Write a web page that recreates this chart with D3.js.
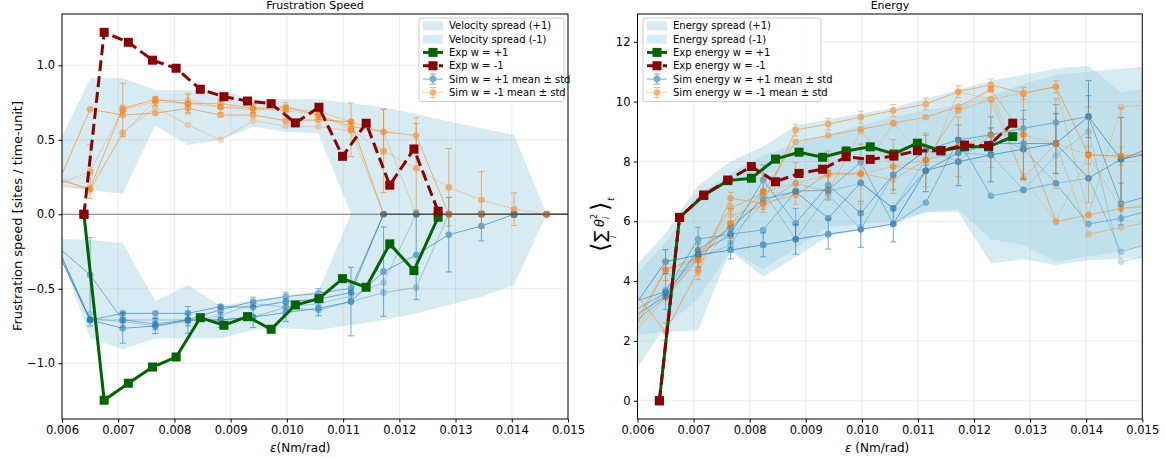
<!DOCTYPE html>
<html><head><meta charset="utf-8">
<script src="https://cdn.jsdelivr.net/npm/d3@7"></script>
<style>body{margin:0;background:#fff} text{font-family:"DejaVu Sans",sans-serif}</style>
</head><body><svg id="c" width="1165" height="459"></svg>
<script>
// ---------- DATA ----------
const simX = [0.00592,0.0065,0.00708,0.00766,0.00824,0.00882,0.0094,0.00998,0.01056,0.01114,0.01172,0.0123,0.01288,0.01346,0.01404,0.01462,0.0152];
const expX = [0.00639,0.00675,0.00718,0.00761,0.00803,0.00846,0.00888,0.00930,0.00972,0.01015,0.01057,0.01099,0.01141,0.01183,0.01226,0.01269];
const xTicks = [0.006,0.007,0.008,0.009,0.010,0.011,0.012,0.013,0.014,0.015];
const velTicks = [-1.0,-0.5,0.0,0.5,1.0];
const enTicks = [0,2,4,6,8,10,12];

// Frustration speed: experiment
const velExpP = [0,-1.248,-1.134,-1.025,-0.958,-0.694,-0.745,-0.687,-0.772,-0.609,-0.566,-0.432,-0.49,-0.199,-0.378,-0.02];
const velExpN = [0,1.221,1.154,1.034,0.980,0.839,0.789,0.760,0.742,0.613,0.718,0.389,0.611,0.195,0.438,0.02];
// Frustration speed: spreads
const velBandPLo = [-0.2,-0.832,-0.906,-0.832,-0.832,-0.832,-0.776,-0.765,-0.776,-0.743,-0.709,-0.665,-0.609,-0.553,-0.474,0,0];
const velBandPHi = [-0.165,-0.172,-0.195,-0.582,-0.474,-0.615,-0.575,-0.548,-0.519,0,0,0,0,0,0,0,0];
const velBandNLo = [0.194,0.16,0.14,0.595,0.465,0.499,0.588,0.554,0.543,0,0,0,0,0,0,0,0];
const velBandNHi = [0.457,0.913,0.913,0.834,0.834,0.834,0.772,0.772,0.772,0.745,0.718,0.672,0.625,0.578,0.532,0,0];
// Frustration speed: simulation runs w=+1
const velSimP1 = [-0.22,-0.71,-0.765,-0.75,-0.709,-0.709,-0.69,-0.66,-0.631,-0.586,-0.385,-0.273,-0.137,-0.079,0,0,0];
const velSimP1Std = [0,0.04,0.1,0.05,0.09,0.05,0.07,0.06,0.05,0.23,0.3,0.3,0.25,0.1,0.02,0,0];
const velSimP2 = [-0.25,-0.71,-0.665,-0.665,-0.665,-0.62,-0.624,-0.586,-0.57,-0.525,0,0,0,0,0,0,0];
const velSimP3 = [-0.218,-0.407,-0.709,-0.736,-0.709,-0.64,-0.586,-0.553,-0.53,-0.497,0,0,0,0,0,0,0];
const velSimP3Std = [0,0.25,0.05,0.04,0.04,0.03,0.03,0.03,0.03,0.03,0,0,0,0,0,0,0];
const velSimP4 = [-0.25,-0.71,-0.709,-0.71,-0.709,-0.709,-0.69,-0.624,-0.645,-0.586,-0.526,-0.492,0,0,0,0,0];
const velSimP5 = [-0.23,-0.70,-0.72,-0.75,-0.72,-0.68,-0.60,-0.624,-0.60,-0.55,-0.458,0,0,0,0,0,0];
// Frustration speed: simulation runs w=-1
const velSimN1 = [0.2,0.286,0.70,0.756,0.743,0.72,0.711,0.697,0.666,0.567,0.425,0.309,0.181,0.096,0.034,0,0];
const velSimN1Std = [0,0.18,0.18,0.03,0.06,0.04,0.03,0.03,0.03,0.18,0.28,0.3,0.26,0.19,0.11,0,0];
const velSimN2 = [0.2,0.704,0.666,0.678,0.711,0.666,0.666,0.628,0.633,0.621,0,0,0,0,0,0,0];
const velSimN3 = [0.23,0.174,0.711,0.771,0.743,0.743,0.711,0.72,0.666,0.59,0.554,0.528,0,0,0,0,0];
const velSimN3Std = [0,0.02,0.02,0.02,0.07,0.03,0.03,0.03,0.03,0.03,0.15,0.12,0,0,0,0,0];
const velSimN4 = [0.25,0.16,0.548,0.718,0.599,0.499,0.628,0.592,0.588,0.559,0,0,0,0,0,0,0];
const velSimN5 = [0.19,0.17,0.54,0.765,0.765,0.72,0.70,0.711,0.69,0.62,0.55,0,0,0,0,0,0];

// Energy: experiment
const enExpP = [0,6.13,6.86,7.36,7.44,8.08,8.31,8.14,8.35,8.49,8.25,8.61,8.36,8.49,8.49,8.83];
const enExpN = [0,6.13,6.88,7.38,7.83,7.32,7.6,7.74,8.16,8.07,8.18,8.36,8.36,8.55,8.53,9.28];
// Energy: spreads
const enBandPLo = [0.9,2.5,3.4,5.0,4.15,4.8,5.5,5.7,5.9,6.3,6.4,5.4,5.2,4.65,4.82,5.0,5.2];
const enBandPHi = [4.1,5.3,6.9,7.6,8.2,8.6,8.9,9.2,9.5,9.7,9.9,10.2,10.6,10.9,11.0,11.1,11.2];
const enBandNLo = [2.2,2.3,2.36,5.04,4.4,5.1,5.8,5.9,6.0,6.3,6.3,4.6,4.73,4.54,4.7,4.75,4.8];
const enBandNHi = [4.4,5.6,7.2,8.0,8.5,9.2,9.4,9.6,9.8,10.1,10.4,10.7,10.9,11.1,11.2,10.3,10.5];
// Energy: simulation runs w=+1
const enSimP1 = [3.1,4.65,4.87,5.04,5.21,5.4,5.57,5.73,5.91,7.69,7.99,8.22,8.41,8.6,9.5,8.07,8.3];
const enSimP1Std = [0,0.4,0.4,0.3,0.4,0.5,0.5,0.6,0.6,0.7,0.8,0.9,1.0,1.0,1.2,1.4,1.4];
const enSimP2 = [3.3,3.65,5.4,5.57,7.38,5.93,7.21,6.27,7.55,8.38,8.72,8.89,9.11,9.3,9.5,6.58,6.9];
const enSimP2Std = [0,0.6,0.4,0.3,0.5,0.5,0.5,0.4,0.5,0.5,0.5,0.6,0.6,0.6,0.7,0.7,0.7];
const enSimP3 = [2.8,3.5,5.04,5.77,6.74,6.99,6.1,7.29,6.43,7.69,8.29,8.6,8.6,8.6,7.44,8.07,8.5];
const enSimP4 = [3.0,3.6,4.87,5.57,5.71,7.0,7.05,7.97,5.91,6.62,8.72,6.85,7.05,7.27,5.91,6.1,6.4];
const enSimP5 = [2.6,3.45,4.8,5.2,7.0,5.4,6.9,5.73,7.55,8.38,8.0,8.89,8.41,7.27,7.44,4.98,5.3];
const enSimP6 = [2.5,3.7,5.0,5.5,6.6,7.27,7.0,7.27,6.43,8.05,8.29,8.22,7.05,8.2,9.0,4.65,4.9];
// Energy: simulation runs w=-1
const enSimN1 = [2.3,4.37,4.7,5.93,6.99,7.27,7.55,7.58,7.83,8.05,8.49,8.89,8.89,8.6,8.22,8.18,8.2];
const enSimN1Std = [0,0.35,0.5,0.5,0.6,0.7,0.8,1.0,0.9,0.9,1.0,1.1,1.3,1.5,1.6,1.6,1.6];
const enSimN2 = [3.7,2.31,4.35,6.77,6.6,9.05,9.25,9.48,9.7,9.92,10.33,10.56,10.28,10.5,8.22,8.18,8.3];
const enSimN2Std = [0,0.3,0.3,0.2,0.3,0.2,0.2,0.2,0.2,0.2,0.2,0.2,0.2,0.2,0.3,0.3,0.3];
const enSimN3 = [2.5,4.39,4.78,6.43,6.96,8.66,8.87,9.08,9.28,9.48,9.83,10.41,8.89,5.99,6.21,6.43,6.5];
const enSimN4 = [2.26,3.42,4.7,5.93,6.6,6.88,7.6,7.6,7.38,8.05,9.7,10.08,7.44,8.6,5.57,5.79,6.0];
const enSimN5 = [2.4,3.48,4.76,6.2,6.5,7.05,7.0,9.0,7.83,7.69,10.33,10.08,10.28,10.5,6.21,9.83,9.9];
const enSimN6 = [2.3,4.34,4.35,5.9,7.0,6.88,7.6,7.6,9.28,8.05,9.7,10.41,7.44,5.99,8.22,6.43,6.6];

// ---------- DRAWING ----------
const BLUE = '#1f77b4', ORANGE = '#ff7f0e', GREEN = '#006400', RED = '#8b0000', BAND = '#add8e6';
const svg = d3.select('#c');
const defs = svg.append('defs');

function drawPanel(o) {
  const x = o.x, y = o.y;
  const [xl, xr] = x.range(), [yb, yt] = y.range();
  defs.append('clipPath').attr('id', o.id).append('rect')
    .attr('x', xl).attr('y', yt).attr('width', xr - xl).attr('height', yb - yt);
  const g = svg.append('g');
  const p = g.append('g').attr('clip-path', `url(#${o.id})`);
  o.bands.forEach(b => {
    const area = d3.area().x((d, i) => x(simX[i])).y0((d, i) => y(b.lo[i])).y1((d, i) => y(b.hi[i]));
    p.append('path').datum(b.lo).attr('d', area).attr('fill', BAND).attr('fill-opacity', 0.5);
  });
  p.selectAll('.gx').data(xTicks).enter().append('line')
    .attr('x1', d => x(d)).attr('x2', d => x(d)).attr('y1', yt).attr('y2', yb)
    .attr('stroke', '#b0b0b0').attr('stroke-opacity', 0.3).attr('stroke-width', 0.8);
  p.selectAll('.gy').data(o.yTicks).enter().append('line')
    .attr('y1', d => y(d)).attr('y2', d => y(d)).attr('x1', xl).attr('x2', xr)
    .attr('stroke', '#b0b0b0').attr('stroke-opacity', 0.3).attr('stroke-width', 0.8);
  o.runs.forEach(r => {
    const rg = p.append('g').attr('opacity', r.alpha);
    const line = d3.line().x((d, i) => x(simX[i])).y(d => y(d));
    rg.append('path').datum(r.v).attr('d', line).attr('fill', 'none').attr('stroke', r.color)
      .attr('stroke-width', 1).attr('stroke-dasharray', r.dash || null);
    if (r.s) {
      r.v.forEach((v, i) => {
        const s = r.s[i]; if (!s) return;
        const cx = x(simX[i]);
        rg.append('line').attr('x1', cx).attr('x2', cx).attr('y1', y(v - s)).attr('y2', y(v + s))
          .attr('stroke', r.color).attr('stroke-width', 1);
        [v - s, v + s].forEach(e => rg.append('line').attr('x1', cx - 3).attr('x2', cx + 3)
          .attr('y1', y(e)).attr('y2', y(e)).attr('stroke', r.color).attr('stroke-width', 1));
      });
    }
    r.v.forEach((v, i) => rg.append('circle').attr('cx', x(simX[i])).attr('cy', y(v)).attr('r', 3.3).attr('fill', r.color));
  });
  if (o.zeroLine) {
    p.append('line').attr('x1', xl).attr('x2', xr).attr('y1', y(0)).attr('y2', y(0))
      .attr('stroke', '#000').attr('stroke-opacity', 0.5).attr('stroke-width', 1);
  }
  o.exps.forEach(e => {
    const line = d3.line().x((d, i) => x(expX[i])).y(d => y(d));
    p.append('path').datum(e.v).attr('d', line).attr('fill', 'none').attr('stroke', e.color)
      .attr('stroke-width', 3).attr('stroke-dasharray', e.dash || null).attr('stroke-linejoin', 'miter');
    e.v.forEach((v, i) => p.append('rect').attr('x', x(expX[i]) - 4.5).attr('y', y(v) - 4.5)
      .attr('width', 9).attr('height', 9).attr('fill', e.color));
  });
  const ax = g.append('g').attr('transform', `translate(0,${yb})`)
    .call(d3.axisBottom(x).tickValues(xTicks).tickFormat(d3.format('.3f')).tickSize(3.5).tickPadding(3.5));
  const ay = g.append('g').attr('transform', `translate(${xl},0)`)
    .call(d3.axisLeft(y).tickValues(o.yTicks).tickFormat(o.yFmt).tickSize(3.5).tickPadding(3.5));
  [ax, ay].forEach(a => {
    a.select('.domain').remove();
    a.selectAll('text').attr('font-size', 11.5).attr('font-family', 'DejaVu Sans').attr('fill', '#000');
    a.selectAll('line').attr('stroke', '#000');
  });
  g.append('rect').attr('x', xl).attr('y', yt).attr('width', xr - xl).attr('height', yb - yt)
    .attr('fill', 'none').attr('stroke', '#000').attr('stroke-width', 1);
  g.append('text').attr('x', (xl + xr) / 2).attr('y', 9).attr('text-anchor', 'middle')
    .attr('font-size', 11).text(o.title);
  return g;
}

function drawLegend(x0, y0, w, labels) {
  const g = svg.append('g');
  g.append('rect').attr('x', x0).attr('y', y0).attr('width', w).attr('height', 83.5).attr('rx', 2)
    .attr('fill', '#fff').attr('fill-opacity', 0.8).attr('stroke', '#cccccc').attr('stroke-width', 1);
  const hx = x0 + 4, hw = 20, tx = x0 + 30;
  labels.forEach((lab, i) => {
    const cy = y0 + 7.7 + i * 13.35;
    const cx = hx + hw / 2;
    if (i < 2) {
      g.append('rect').attr('x', hx).attr('y', cy - 4.5).attr('width', hw).attr('height', 9)
        .attr('fill', BAND).attr('fill-opacity', 0.5);
    } else if (i < 4) {
      const c = i === 2 ? GREEN : RED;
      g.append('line').attr('x1', hx).attr('x2', hx + hw).attr('y1', cy).attr('y2', cy)
        .attr('stroke', c).attr('stroke-width', 3).attr('stroke-dasharray', i === 3 ? '11,5' : null);
      g.append('rect').attr('x', cx - 4.5).attr('y', cy - 4.5).attr('width', 9).attr('height', 9).attr('fill', c);
    } else {
      const c = i === 4 ? BLUE : ORANGE;
      const sg = g.append('g').attr('opacity', 0.6);
      sg.append('line').attr('x1', hx).attr('x2', hx + hw).attr('y1', cy).attr('y2', cy)
        .attr('stroke', c).attr('stroke-width', 1).attr('stroke-dasharray', i === 5 ? '1.5,1.5' : null);
      sg.append('line').attr('x1', cx).attr('x2', cx).attr('y1', cy - 5).attr('y2', cy + 5).attr('stroke', c);
      sg.append('line').attr('x1', cx - 3).attr('x2', cx + 3).attr('y1', cy - 5).attr('y2', cy - 5).attr('stroke', c);
      sg.append('line').attr('x1', cx - 3).attr('x2', cx + 3).attr('y1', cy + 5).attr('y2', cy + 5).attr('stroke', c);
      sg.append('circle').attr('cx', cx).attr('cy', cy).attr('r', 3.3).attr('fill', c);
    }
    g.append('text').attr('x', tx).attr('y', cy).attr('dy', '0.35em').attr('font-size', 10).text(lab);
  });
}

const xV = d3.scaleLinear([0.006, 0.015], [62, 568]);
const yV = d3.scaleLinear([-1.374, 1.344], [419, 14]);
drawPanel({
  id: 'clipV', x: xV, y: yV, yTicks: velTicks, yFmt: d3.format('.1f'), title: 'Frustration Speed', zeroLine: true,
  bands: [{lo: velBandPLo, hi: velBandPHi}, {lo: velBandNLo, hi: velBandNHi}],
  runs: [
    {v: velSimP5, color: BLUE, alpha: 0.3},
    {v: velSimN5, color: ORANGE, alpha: 0.3},
    {v: velSimP4, color: BLUE, alpha: 0.35},
    {v: velSimN4, color: ORANGE, alpha: 0.3},
    {v: velSimP2, color: BLUE, alpha: 0.6},
    {v: velSimN2, color: ORANGE, alpha: 0.6},
    {v: velSimP3, s: velSimP3Std, color: BLUE, alpha: 0.55},
    {v: velSimN3, s: velSimN3Std, color: ORANGE, alpha: 0.55},
    {v: velSimP1, s: velSimP1Std, color: BLUE, alpha: 0.6},
    {v: velSimN1, s: velSimN1Std, color: ORANGE, alpha: 0.6, dash: '1.5,1.5'}
  ],
  exps: [{v: velExpP, color: GREEN}, {v: velExpN, color: RED, dash: '11,5'}]
});
svg.append('text').attr('transform', 'translate(22,216) rotate(-90)').attr('text-anchor', 'middle')
  .attr('font-size', 13).text('Frustration speed [sites / time-unit]');
const xl1 = svg.append('text').attr('x', 270).attr('y', 452).attr('font-size', 12);
xl1.append('tspan').attr('font-style', 'italic').text('ε');
xl1.append('tspan').text('(Nm/rad)');

const xE = d3.scaleLinear([0.006, 0.015], [637.5, 1142.3]);
const yE = d3.scaleLinear([-0.61, 12.93], [419, 14]);
drawPanel({
  id: 'clipE', x: xE, y: yE, yTicks: enTicks, yFmt: d3.format('d'), title: 'Energy', zeroLine: false,
  bands: [{lo: enBandPLo, hi: enBandPHi}, {lo: enBandNLo, hi: enBandNHi}],
  runs: [
    {v: enSimP6, color: BLUE, alpha: 0.25},
    {v: enSimN6, color: ORANGE, alpha: 0.25},
    {v: enSimP5, color: BLUE, alpha: 0.3},
    {v: enSimN5, color: ORANGE, alpha: 0.3},
    {v: enSimP4, color: BLUE, alpha: 0.45},
    {v: enSimN4, color: ORANGE, alpha: 0.35},
    {v: enSimP3, color: BLUE, alpha: 0.55},
    {v: enSimN3, color: ORANGE, alpha: 0.5},
    {v: enSimP2, s: enSimP2Std, color: BLUE, alpha: 0.5},
    {v: enSimN2, s: enSimN2Std, color: ORANGE, alpha: 0.55},
    {v: enSimP1, s: enSimP1Std, color: BLUE, alpha: 0.65},
    {v: enSimN1, s: enSimN1Std, color: ORANGE, alpha: 0.6, dash: '1.5,1.5'}
  ],
  exps: [{v: enExpP, color: GREEN}, {v: enExpN, color: RED, dash: '11,5'}]
});
const xl2 = svg.append('text').attr('x', 845).attr('y', 452).attr('font-size', 12);
xl2.append('tspan').attr('font-style', 'italic').text('ε');
xl2.append('tspan').text(' (Nm/rad)');

// right y label: <sum_i theta_i^2>_t
const yl = svg.append('g').attr('transform', 'translate(602,218) rotate(-90)');
const tt = (x, y, s, t, it) => yl.append('text').attr('x', x).attr('y', y).attr('font-size', s)
  .attr('font-family', 'DejaVu Sans').attr('font-style', it ? 'italic' : null).text(t);
tt(-34, 6, 24, '⟨');
tt(-24, 4, 17, '∑');
tt(-20, 14, 8, 'i', true);
tt(-9, 2, 13, 'θ', true);
tt(-1, -5, 8, '2');
tt(-1, 7, 8, 'i', true);
tt(7, 6, 24, '⟩');
tt(17, 12, 9, 't', true);

drawLegend(419, 18, 145, ['Velocity spread (+1)', 'Velocity spread (-1)', 'Exp w = +1', 'Exp w = -1',
  'Sim w = +1 mean ± std', 'Sim w = -1 mean ± std']);
drawLegend(643, 18, 178, ['Energy spread (+1)', 'Energy spread (-1)', 'Exp energy w = +1', 'Exp energy w = -1',
  'Sim energy w = +1 mean ± std', 'Sim energy w = -1 mean ± std']);
</script></body></html>
